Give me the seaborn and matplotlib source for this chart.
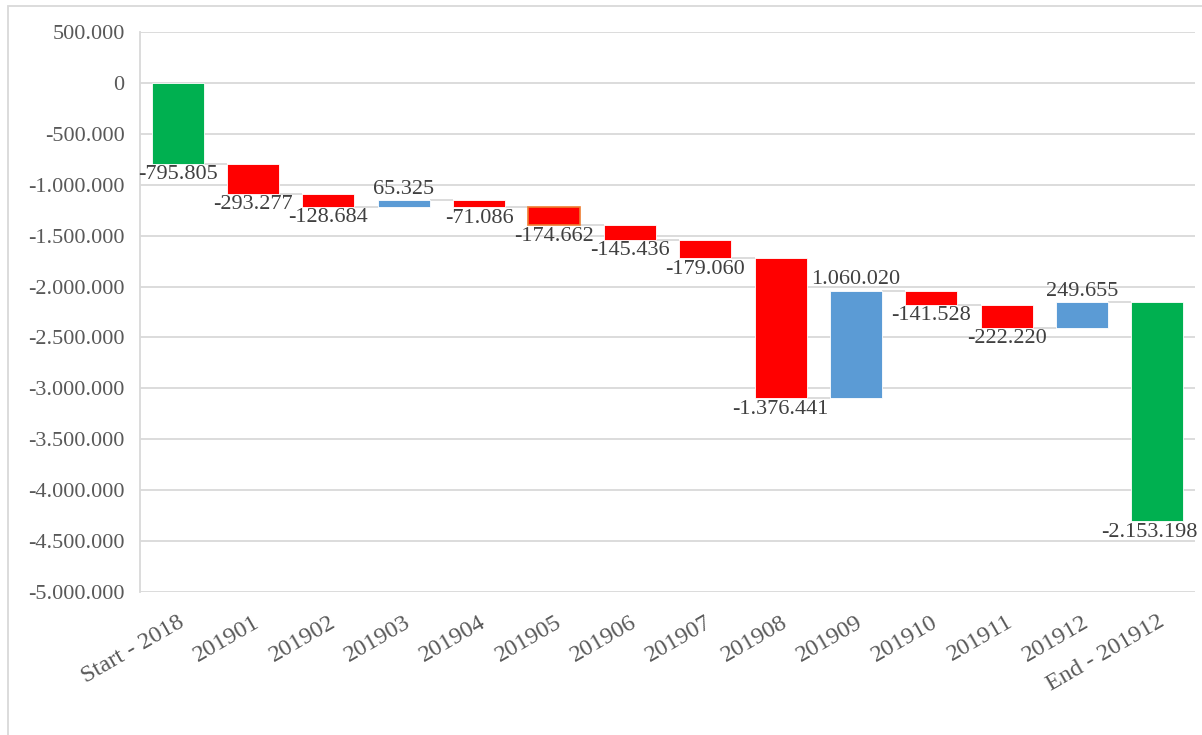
import matplotlib
matplotlib.use("Agg")
import matplotlib.pyplot as plt
import seaborn as sns
import numpy as np
from matplotlib.patches import Rectangle

# 主題與字體 (Times 風格)
sns.set_style("white")
plt.rcParams['font.family'] = ['Liberation Serif', 'DejaVu Serif']

# 資料
categories = ['Start - 2018', '201901', '201902', '201903', '201904', '201905', '201906',
              '201907', '201908', '201909', '201910', '201911', '201912', 'End - 201912']
changes = [-795805, -293277, -128684, 65325, -71086, -174662, -145436,
           -179060, -1376441, 1060020, -141528, -222220, 249655]
end_value = -2153198
bar_colors = ['#00B050'] + ['#FF0000' if v < 0 else '#5B9BD5' for v in changes[1:]] + ['#00B050']
y_ticks = np.arange(-5000000, 500001, 500000)

# 瀑布圖的底部
running = np.cumsum(changes)
heights = np.array(changes + [end_value], dtype=float)
bottoms = np.concatenate([[0], running[:-1], [end_value]]).astype(float)
levels = np.concatenate([running, [end_value]])


def fmt(v):
    return f"{int(v):,}".replace(",", ".")


W, H = 1202, 735
fig = plt.figure(figsize=(W / 100, H / 100), dpi=100)
ax = fig.add_axes([140 / W, 1 - 592 / H, (1195 - 140) / W, (592 - 32) / H])

bar_w = 0.69
sns.barplot(x=categories, y=heights, order=categories, bottom=bottoms,
            errorbar=None, width=bar_w, color='#FF0000', ax=ax, zorder=3)

for i, patch in enumerate(ax.patches):
    patch.set_facecolor(bar_colors[i])
    patch.set_edgecolor('white')
    patch.set_linewidth(0.6)
# 201905 的橘色邊框
ax.patches[5].set_edgecolor('#ED7D31')
ax.patches[5].set_linewidth(1.2)

# 連接線
for i in range(len(categories) - 1):
    ax.hlines(levels[i], i + bar_w / 2, i + 1 - bar_w / 2, color='#D9D9D9', lw=1.3, zorder=2)

# 數值標籤
n = len(categories)
for i, (b, h) in enumerate(zip(bottoms, heights)):
    end = b + h
    if i == n - 1:
        # 最後一個標籤靠右對齊, 不超出圖表
        ax.annotate(fmt(h), (1, end), xycoords=('axes fraction', 'data'), xytext=(1.5, -1),
                    textcoords='offset points', ha='right', va='top', fontsize=16,
                    color='#404040', zorder=4, annotation_clip=False)
    elif h < 0:
        ax.annotate(fmt(h), (i, end), xytext=(0, -1), textcoords='offset points',
                    ha='center', va='top', fontsize=16, color='#404040', zorder=4)
    else:
        ax.annotate(fmt(h), (i, end), xytext=(0, 1), textcoords='offset points',
                    ha='center', va='bottom', fontsize=16, color='#404040', zorder=4)

# 軸設定
ax.set_ylim(-5000000, 500000)
ax.set_xlim(-0.5, n - 0.5)
ax.set_yticks(y_ticks)
ax.set_yticklabels([fmt(t) for t in y_ticks])
ax.set_xlabel('')
ax.set_ylabel('')
ax.grid(True, axis='y', color='#D9D9D9', lw=1.3, zorder=0)
ax.set_axisbelow(True)
ax.tick_params(axis='y', length=0, pad=11, labelsize=16, labelcolor='#595959')
ax.tick_params(axis='x', length=0, pad=14, labelsize=17.5, labelcolor='#595959')
for lbl in ax.get_xticklabels():
    lbl.set_rotation(30)
    lbl.set_ha('right')
    lbl.set_va('top')
    lbl.set_rotation_mode('anchor')

for s in ['top', 'right', 'bottom']:
    ax.spines[s].set_visible(False)
ax.spines['left'].set_color('#D9D9D9')
ax.spines['left'].set_linewidth(1.3)

# 外框
fig.patches.append(Rectangle((8 / W, -0.05), 1.1, 1.05 - 6 / H, transform=fig.transFigure,
                             fill=False, edgecolor='#D9D9D9', lw=1.3, clip_on=False))

fig.savefig('out.png', dpi=100, facecolor='white')
